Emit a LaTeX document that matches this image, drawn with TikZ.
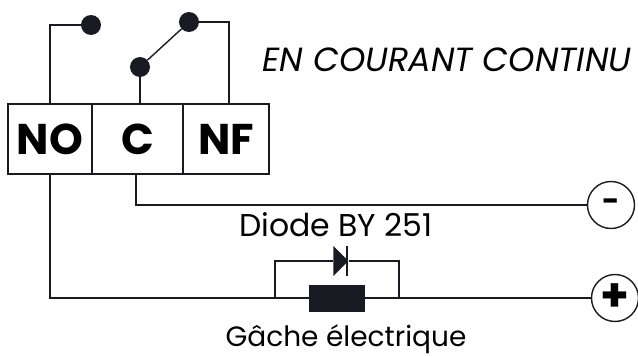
\documentclass[tikz,border=0pt]{standalone}
\usepackage{fontspec}
\setmainfont{Poppins}
\usetikzlibrary{shapes.geometric}
\definecolor{wirecolor}{HTML}{1A1A22}

\begin{document}
\begin{tikzpicture}
[
x=1pt, y=-1pt,
% The wires:
wire/.style={
line width=1.4pt,
draw=wirecolor,
},
% The contacts of the relay:
contact/.style={
circle,
minimum size=20pt,
inner sep=0pt,
fill=wirecolor,
},
% The three boxes of the terminal block:
terminal/.style={
rectangle,
minimum height=70pt,
inner sep=0pt,
line width=1.4pt,
draw=wirecolor,
font=\fontsize{43}{43}\selectfont\bfseries,
},
% The two round poles:
pole/.style={
circle,
minimum size=47pt,
inner sep=0pt,
line width=1.4pt,
draw=wirecolor,
fill=white,
},
caption/.style={
inner sep=0pt,
anchor=base,
},
]
    \useasboundingbox (0, 0) rectangle (638, 356);
    \node[terminal, minimum width=84pt] (no) at (50, 139) {NO};
    \node[terminal, minimum width=91pt] (c) at (137.5, 139) {C};
    \node[terminal, minimum width=86pt] (nf) at (226, 139) {NF};
    \node[contact] (dotno) at (91, 25) {};
    \node[contact] (dotnf) at (189, 22) {};
    \node[contact] (dotc) at (140, 67) {};
    \node[pole, font=\fontsize{30}{30}\selectfont\bfseries] (minus) at (611, 205) {-};
    \node[pole, font=\fontsize{46}{46}\selectfont\bfseries] (plus) at (615, 298) {+};
    \node[rectangle, fill=wirecolor, inner sep=0pt, minimum width=56pt, minimum height=27pt] (gache) at (337, 298) {};
    \node[isosceles triangle, isosceles triangle stretches, fill=wirecolor, inner sep=0pt, minimum width=30pt, minimum height=15pt] (diode) at (339.5, 261) {};
    \coordinate (left) at (275, 298);
    \coordinate (right) at (399, 298);
    \coordinate (bartop) at (347, 246);
    \coordinate (barbottom) at (347, 276);
    \node[caption, font=\fontsize{33.5}{33.5}\selectfont\itshape] (title) at (447, 71) {EN COURANT CONTINU};
    \node[caption, font=\fontsize{31.5}{31.5}\selectfont] (diodetext) at (336, 236) {Diode BY 251};
    \node[caption, font=\fontsize{28}{28}\selectfont] (gachetext) at (346, 346) {Gâche électrique};
    \draw[wire] ([xshift=3pt]nf.north) |- (dotnf);
    \draw[wire] (no.north) |- (dotno);
    \draw[wire] (c.north -| dotc) -- (dotc);
    \draw[wire] (dotc) -- (dotnf);
    \draw[wire] ([xshift=-1.5pt]c.south) |- (minus);
    \draw[wire] (no.south) |- (gache);
    \draw[wire] (gache) -- (plus);
    \draw[wire] (left) |- (diode);
    \draw[wire] (right) |- (diode);
    \draw[wire] (bartop) -- (barbottom);
\end{tikzpicture}
\end{document}
